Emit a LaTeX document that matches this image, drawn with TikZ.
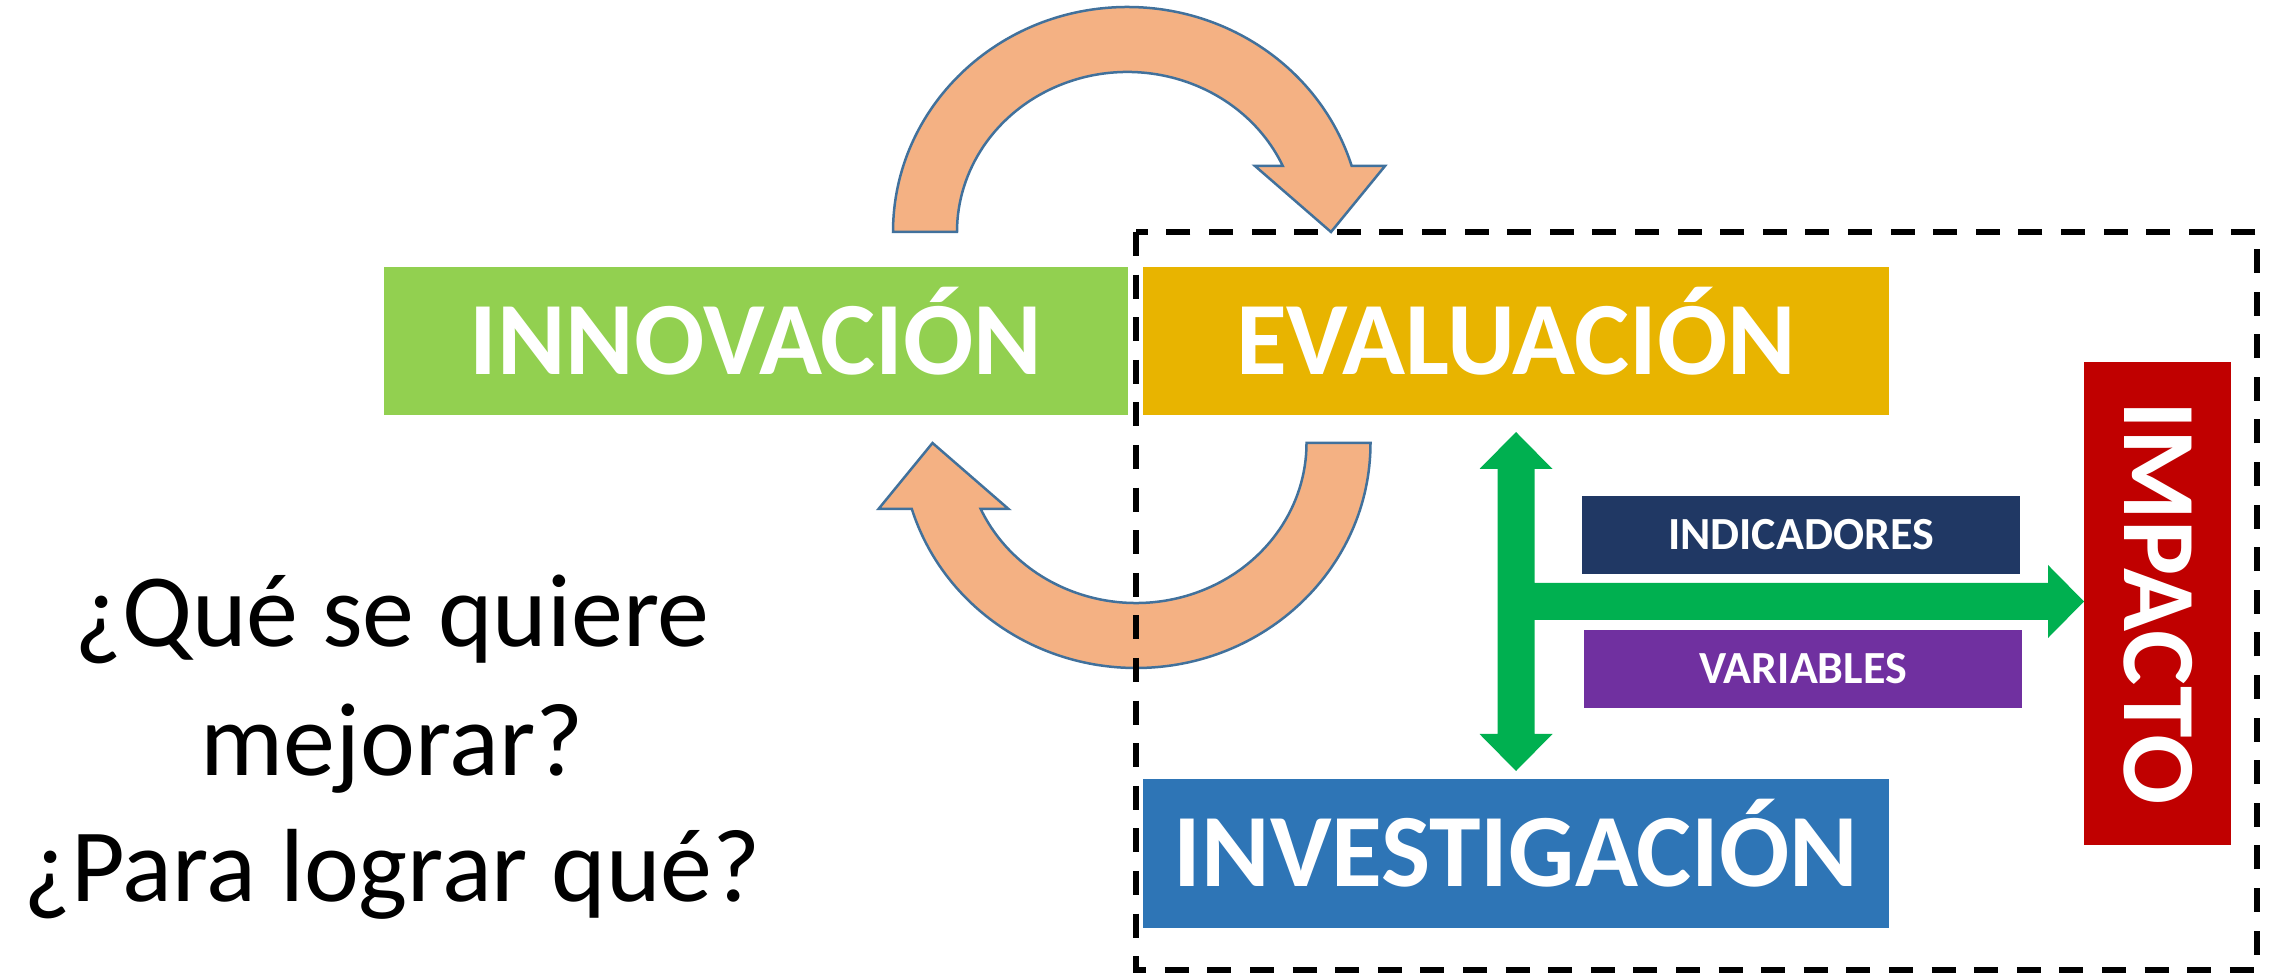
\documentclass[tikz,border=0pt]{standalone}
\usepackage{fontspec}
\setmainfont{Carlito}
\definecolor{cgreen}{HTML}{92D050}
\definecolor{cgold}{HTML}{E8B400}
\definecolor{cblue}{HTML}{2E75B6}
\definecolor{cred}{HTML}{C00000}
\definecolor{cnavy}{HTML}{203864}
\definecolor{cpurple}{HTML}{7030A0}
\definecolor{carrow}{HTML}{00B050}
\definecolor{corange}{HTML}{F4B183}
\definecolor{cline}{HTML}{41719C}
\begin{document}
\begin{tikzpicture}[x=1pt,y=1pt,
  bigbox/.style={fill=#1, draw=none, inner sep=0pt, text=white,
    font=\bfseries\fontsize{104}{104}\selectfont, text height=67pt, text depth=0pt},
  smallbox/.style={fill=#1, draw=none, inner sep=0pt, text=white,
    minimum width=438pt, minimum height=78pt,
    font=\bfseries\fontsize{46}{46}\selectfont, text height=30pt, text depth=0pt},
  question/.style={anchor=base, inner sep=0pt, text=black,
    font=\fontsize{104}{104}\selectfont},
  cyclearrow/.style={fill=corange, draw=cline, line width=2.5pt, line join=miter},
  frame/.style={draw=black, line width=5.5pt, dash pattern=on 24pt off 18.6pt}
]
\useasboundingbox (0,0) rectangle (2275,973);

% curved arrows
\filldraw[cyclearrow] (893,741)
  arc[start angle=180, end angle=17.06, x radius=234.5pt, y radius=225pt]
  -- (1385,807) -- (1331,741) -- (1255,807) -- (1282.8,807)
  arc[start angle=24.36, end angle=180, x radius=170.5pt, y radius=160pt]
  -- cycle;
\filldraw[cyclearrow] (1370.5,530)
  arc[start angle=0, end angle=-162.94, x radius=234.5pt, y radius=225pt]
  -- (878.5,464) -- (932.5,530) -- (1008.5,464) -- (980.7,464)
  arc[start angle=-155.64, end angle=0, x radius=170.5pt, y radius=160pt]
  -- cycle;

% dashed frame
\draw[frame] (1136,741) rectangle (2257,3);

% boxes
\node[bigbox=cgreen, minimum width=744pt, minimum height=148pt] (innov) at (756,632) {INNOVACIÓN};
\node[bigbox=cgold, minimum width=746pt, minimum height=148pt] (eval) at (1516,632) {EVALUACIÓN};
\node[bigbox=cblue, minimum width=746pt, minimum height=149pt] (invest) at (1516,119.5) {INVESTIGACIÓN};
\node[bigbox=cred, rotate=-90, minimum width=483pt, minimum height=147pt] (impacto) at (2157.5,369.5) {IMPACTO};
\node[smallbox=cnavy] (indic) at (1801,438) {INDICADORES};
\node[smallbox=cpurple] (vars) at (1803,304) {VARIABLES};

% green arrow
\fill[carrow] (1516,541) -- (1552.5,504) -- (1534.5,504) -- (1534.5,390)
  -- (2048,390) -- (2048,408) -- (2084,371.5) -- (2048,335) -- (2048,353)
  -- (1534.5,353) -- (1534.5,239) -- (1552.5,239) -- (1516,202)
  -- (1479.5,239) -- (1497.5,239) -- (1497.5,504) -- (1479.5,504) -- cycle;

% questions
\node[question] (q1) at (392,326) {¿Qué se quiere};
\node[question] (q2) at (392,197) {mejorar?};
\node[question] (q3) at (392,71) {¿Para lograr qué?};
\end{tikzpicture}
\end{document}
